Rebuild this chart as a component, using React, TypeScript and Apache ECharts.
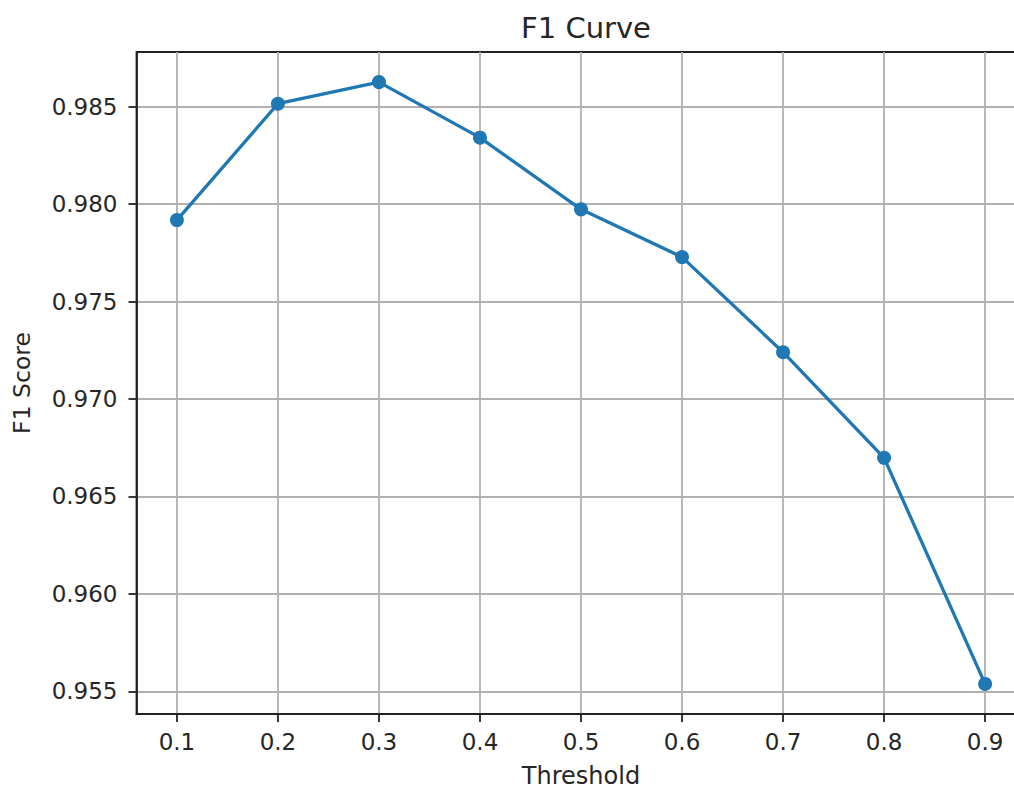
import React, { useEffect, useRef } from "react";
import * as echarts from "echarts";

const thresholds = [0.1, 0.2, 0.3, 0.4, 0.5, 0.6, 0.7, 0.8, 0.9];
const f1Scores = [0.97918, 0.98515, 0.98626, 0.98341, 0.97973, 0.97728, 0.9724, 0.96698, 0.95538];
const xTicks = [0.1, 0.2, 0.3, 0.4, 0.5, 0.6, 0.7, 0.8, 0.9];
const yTicks = [0.955, 0.96, 0.965, 0.97, 0.975, 0.98, 0.985];

const FONT = "DejaVu Sans";
const TEXT = "#262626";

export default function App() {
  const ref = useRef<HTMLDivElement>(null);
  useEffect(() => {
    if (!ref.current) return;
    const chart = echarts.init(ref.current, undefined, { renderer: "svg" });
    const minY = Math.min(...f1Scores);
    const maxY = Math.max(...f1Scores);
    const padY = (maxY - minY) * 0.05;
    const minX = thresholds[0];
    const maxX = thresholds[thresholds.length - 1];
    const padX = (maxX - minX) * 0.05;
    chart.setOption({
      animation: false,
      backgroundColor: "#ffffff",
      title: {
        text: "F1 Curve",
        left: 581,
        top: 8,
        textAlign: "center",
        textStyle: { fontFamily: FONT, fontSize: 29, fontWeight: "normal", color: TEXT },
      },
      grid: {
        left: 136.5,
        top: 52,
        width: 889,
        height: 662,
        outerBoundsMode: "none",
        containLabel: false,
        show: true,
        borderColor: "#222",
        borderWidth: 1.8,
        backgroundColor: "transparent",
      },
      xAxis: {
        type: "value",
        min: minX - padX,
        max: maxX + padX,
        name: "Threshold",
        nameLocation: "middle",
        nameGap: 50,
        nameTextStyle: { fontFamily: FONT, fontSize: 24, color: TEXT },
        axisLine: { show: true, onZero: false, lineStyle: { color: "#222", width: 1.8 } },
        axisTick: { show: true, inside: false, length: 8, customValues: xTicks, lineStyle: { color: "#222", width: 1.8 } },
        axisLabel: {
          customValues: xTicks,
          margin: 16,
          fontFamily: FONT,
          fontSize: 23,
          color: TEXT,
          formatter: (v: number) => v.toFixed(1),
        },
        splitLine: { show: true, lineStyle: { color: "#b0b0b0", width: 1.8 } },
      },
      yAxis: {
        type: "value",
        min: minY - padY,
        max: maxY + padY,
        name: "F1 Score",
        nameLocation: "middle",
        nameRotate: 90,
        nameGap: 103,
        nameTextStyle: { fontFamily: FONT, fontSize: 23.5, color: TEXT },
        axisLine: { show: true, onZero: false, lineStyle: { color: "#222", width: 1.8 } },
        axisTick: { show: true, inside: false, length: 8, customValues: yTicks, lineStyle: { color: "#222", width: 1.8 } },
        axisLabel: {
          customValues: yTicks,
          margin: 19,
          fontFamily: FONT,
          fontSize: 23,
          color: TEXT,
          formatter: (v: number) => v.toFixed(3),
        },
        splitLine: { show: true, lineStyle: { color: "#b0b0b0", width: 1.8 } },
      },
      series: [
        {
          type: "line",
          data: thresholds.map((t, i) => [t, f1Scores[i]]),
          symbol: "circle",
          symbolSize: 14,
          lineStyle: { color: "#1f77b4", width: 3.3 },
          itemStyle: { color: "#1f77b4" },
          z: 5,
        },
      ],
    });
    return () => chart.dispose();
  }, []);
  return (
    <div style={{ position: "absolute", left: 0, top: 0, width: 1014, height: 789, overflow: "hidden", background: "#fff" }}>
      <div ref={ref} style={{ width: 1070, height: 789 }} />
    </div>
  );
}
